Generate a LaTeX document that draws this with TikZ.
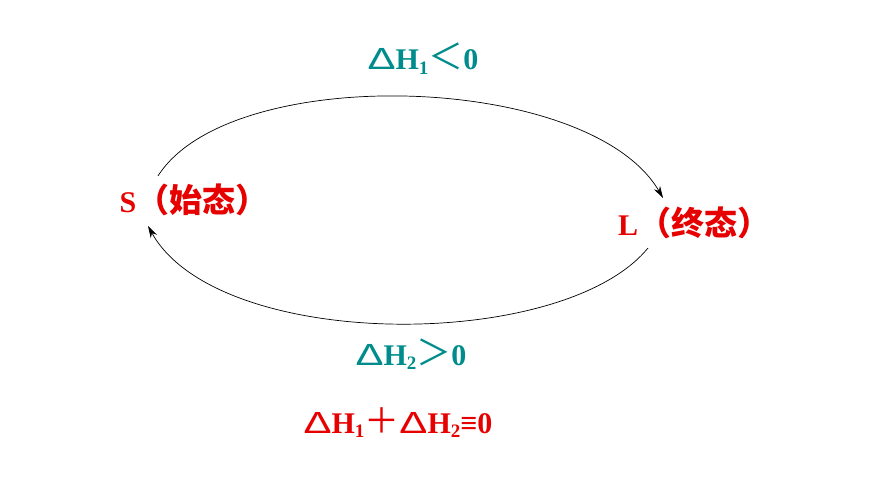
\documentclass[tikz,border=0pt]{standalone}
\usepackage{fontspec}
\setmainfont{Liberation Serif}
\newfontfamily\cjk{Noto Sans CJK SC}
\newfontfamily\greek{Liberation Sans}
\usetikzlibrary{arrows.meta}
\definecolor{statered}{RGB}{230,0,0}
\definecolor{heatteal}{RGB}{0,140,140}
\newcommand{\lowidx}[1]{\raisebox{-0.35ex}{\fontsize{19pt}{19pt}\selectfont #1}}
\newcommand{\tri}{{\greek\mdseries\scalebox{1.4}[1.02]{Δ}}}
\newcommand{\wide}[1]{{\cjk\mdseries\fontsize{35pt}{35pt}\selectfont #1}}
\newcommand{\zh}[1]{{\cjk\fontsize{33pt}{33pt}\selectfont #1}}
\tikzset{
  label/.style={font=\fontsize{30pt}{32pt}\selectfont\bfseries, inner sep=0pt, anchor=base},
  path/.style={line width=0.7pt, -{Stealth[length=12pt,width=7pt]}}
}
\begin{document}
\begin{tikzpicture}[x=1pt,y=-1pt]
        \useasboundingbox (0,0) rectangle (870,489);
        % states
        \node[label, text=statered] (S) at (194,213) {S\zh{（始态）}};
        \node[label, text=statered] (L) at (694,236) {L\zh{（终态）}};
        % enthalpy changes
        \node[label, text=heatteal] (H1) at (423,70) {\tri H\lowidx{1}\wide{＜}0};
        \node[label, text=heatteal] (H2) at (411,365) {\tri H\lowidx{2}\wide{＞}0};
        \node[label, text=statered] (sum) at (398,433) {\tri H\lowidx{1}\wide{＋}\tri H\lowidx{2}≡0};
        % arc ends
        \coordinate (S1) at (158,176);
        \coordinate (L1) at (663,198);
        \coordinate (L2) at (648,248);
        \coordinate (S2) at (148,226);
        \draw[path] (S1) .. controls (230,62) and (590,72) .. (L1);
        \draw[path] (L2) .. controls (563,352) and (218,352) .. (S2);
\end{tikzpicture}
\end{document}
